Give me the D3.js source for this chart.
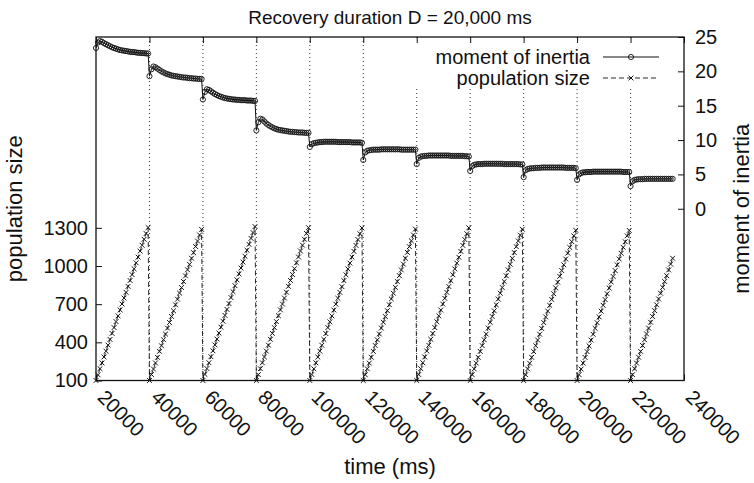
<!DOCTYPE html>
<html>
<head>
<meta charset="utf-8">
<script src="https://cdn.jsdelivr.net/npm/d3@7"></script>
<style>
  body { margin: 0; background: #fff; }
  text { font-family: "Liberation Sans", Arial, Helvetica, sans-serif; fill: #111; }
</style>
</head>
<body>
<svg id="chart" width="754" height="483"></svg>
<script>
// Restart times (ms) at which the population is reset; each run is sampled every sampleMs.
const restarts = [20000, 40000, 60000, 80000, 100000, 120000, 140000, 160000, 180000, 200000, 220000];
const sampleMs = 750;

// Moment of inertia, one list per run
const inertiaRuns = [
  [23.4, 24.2, 24.4, 24.3, 24.1, 23.95, 23.8, 23.65, 23.5, 23.4, 23.3, 23.2, 23.1, 23.05, 23.0, 22.95, 22.9, 22.85, 22.8, 22.8, 22.75, 22.7, 22.7, 22.65, 22.65, 22.6, 22.6],
  [19.3, 20.3, 20.7, 20.6, 20.4, 20.2, 20.0, 19.85, 19.7, 19.6, 19.5, 19.4, 19.35, 19.3, 19.25, 19.2, 19.15, 19.1, 19.1, 19.05, 19.0, 19.0, 18.95, 18.95, 18.9, 18.9, 18.9],
  [15.9, 17.0, 17.4, 17.3, 17.1, 16.9, 16.7, 16.55, 16.4, 16.3, 16.2, 16.1, 16.05, 16.0, 15.95, 15.9, 15.9, 15.85, 15.85, 15.8, 15.8, 15.8, 15.75, 15.75, 15.75, 15.7, 15.7],
  [11.4, 12.6, 13.1, 13.0, 12.7, 12.4, 12.2, 12.0, 11.85, 11.7, 11.6, 11.5, 11.45, 11.4, 11.35, 11.3, 11.25, 11.2, 11.2, 11.15, 11.15, 11.1, 11.1, 11.1, 11.05, 11.05, 11.05],
  [9.0, 9.4, 9.55, 9.6, 9.65, 9.7, 9.7, 9.75, 9.75, 9.75, 9.75, 9.75, 9.75, 9.75, 9.7, 9.7, 9.7, 9.7, 9.7, 9.7, 9.7, 9.65, 9.65, 9.65, 9.65, 9.65, 9.6],
  [7.1, 8.2, 8.45, 8.5, 8.55, 8.6, 8.6, 8.6, 8.6, 8.65, 8.65, 8.65, 8.65, 8.65, 8.65, 8.65, 8.65, 8.65, 8.65, 8.6, 8.6, 8.6, 8.6, 8.6, 8.6, 8.6, 8.6],
  [6.5, 7.4, 7.6, 7.65, 7.7, 7.7, 7.75, 7.75, 7.75, 7.75, 7.75, 7.75, 7.75, 7.75, 7.75, 7.75, 7.75, 7.7, 7.7, 7.7, 7.7, 7.7, 7.7, 7.7, 7.65, 7.65, 7.6],
  [5.5, 6.2, 6.4, 6.45, 6.5, 6.5, 6.5, 6.55, 6.55, 6.55, 6.55, 6.55, 6.55, 6.55, 6.55, 6.55, 6.55, 6.5, 6.5, 6.5, 6.5, 6.5, 6.5, 6.5, 6.5, 6.45, 6.45],
  [4.6, 5.6, 5.8, 5.85, 5.9, 5.9, 5.95, 5.95, 5.95, 6.0, 6.0, 6.0, 6.0, 6.0, 6.0, 6.0, 6.0, 6.0, 6.0, 6.0, 6.0, 5.95, 5.95, 5.95, 5.95, 5.95, 5.9],
  [4.2, 5.0, 5.2, 5.3, 5.3, 5.35, 5.35, 5.35, 5.4, 5.4, 5.4, 5.4, 5.4, 5.4, 5.4, 5.4, 5.4, 5.4, 5.4, 5.4, 5.4, 5.4, 5.4, 5.35, 5.35, 5.35, 5.35],
  [3.3, 4.0, 4.2, 4.25, 4.3, 4.3, 4.3, 4.35, 4.35, 4.35, 4.35, 4.35, 4.35, 4.35, 4.35, 4.35, 4.35, 4.35, 4.35, 4.35, 4.35, 4.35]
];

// Population size, one list per run
const populationRuns = [
  [100, 145, 193, 238, 285, 330, 378, 423, 470, 516, 563, 608, 655, 701, 748, 793, 840, 886, 932, 978, 1025, 1070, 1117, 1163, 1210, 1255, 1302],
  [100, 147, 190, 238, 282, 329, 373, 421, 465, 512, 556, 604, 648, 695, 739, 787, 831, 878, 922, 970, 1013, 1061, 1105, 1153, 1196, 1244, 1288],
  [100, 148, 194, 240, 287, 333, 380, 426, 473, 519, 566, 612, 659, 705, 752, 798, 845, 891, 938, 984, 1031, 1077, 1124, 1170, 1217, 1263, 1310],
  [100, 146, 193, 239, 285, 331, 378, 424, 470, 516, 563, 609, 655, 701, 748, 794, 840, 886, 933, 979, 1025, 1071, 1118, 1164, 1210, 1256, 1301],
  [100, 147, 192, 239, 284, 331, 377, 423, 469, 516, 561, 608, 654, 700, 746, 793, 838, 885, 931, 977, 1023, 1070, 1115, 1162, 1208, 1254, 1299],
  [100, 145, 192, 237, 283, 329, 375, 420, 466, 512, 558, 603, 649, 695, 741, 786, 832, 878, 924, 969, 1015, 1061, 1107, 1152, 1198, 1244, 1290],
  [100, 147, 193, 240, 285, 332, 377, 424, 470, 516, 562, 608, 654, 701, 746, 793, 839, 885, 931, 977, 1023, 1069, 1115, 1162, 1208, 1254, 1300],
  [100, 146, 191, 237, 282, 329, 374, 420, 465, 512, 557, 603, 648, 695, 740, 786, 831, 878, 923, 969, 1014, 1060, 1106, 1152, 1197, 1243, 1289],
  [100, 145, 191, 236, 282, 327, 373, 418, 464, 509, 555, 600, 646, 691, 737, 782, 828, 873, 919, 964, 1010, 1055, 1101, 1146, 1192, 1237, 1281],
  [100, 146, 190, 237, 281, 327, 372, 418, 463, 510, 554, 600, 645, 691, 736, 782, 827, 874, 918, 964, 1009, 1055, 1100, 1147, 1191, 1237, 1280],
  [100, 146, 192, 237, 283, 329, 375, 420, 466, 512, 558, 603, 649, 695, 741, 786, 832, 878, 924, 969, 1015, 1061]
];

const timeTicks = [20000, 40000, 60000, 80000, 100000, 120000, 140000, 160000, 180000, 200000, 220000, 240000];
const populationTicks = [100, 400, 700, 1000, 1300];
const inertiaTicks = [0, 5, 10, 15, 20, 25];

const titleText = "Recovery duration D = 20,000 ms";
const seriesNames = ["moment of inertia", "population size"];

// ---- layout ----
const W = 754, H = 483;
const plot = { left: 96, right: 684, top: 37, bottom: 380.5 };

const svg = d3.select("#chart");

const x = d3.scaleLinear().domain([20000, 240000]).range([plot.left, plot.right]);
const yPop = d3.scaleLinear().domain([100, 2800]).range([plot.bottom, plot.top]);
const yIn = d3.scaleLinear().domain([-25, 25]).range([plot.bottom, plot.top]);

// flatten runs into time-stamped samples
const inertia = [];
inertiaRuns.forEach((run, k) => run.forEach((v, i) => inertia.push({ t: restarts[k] + i * sampleMs, v })));
const population = [];
populationRuns.forEach((run, k) => run.forEach((v, i) => population.push({ t: restarts[k] + i * sampleMs, v })));

// dotted vertical grid at interior time ticks
svg.append("g").selectAll("line")
  .data(timeTicks.filter(t => t > 20000 && t < 240000))
  .join("line")
  .attr("x1", d => x(d)).attr("x2", d => x(d))
  .attr("y1", plot.top).attr("y2", plot.bottom)
  .attr("stroke", "#333").attr("stroke-width", 1)
  .attr("stroke-dasharray", "1,3");

// population size: dashed line with x markers
svg.append("path")
  .datum(population)
  .attr("fill", "none")
  .attr("stroke", "#111")
  .attr("stroke-width", 0.9)
  .attr("stroke-dasharray", "5,3")
  .attr("d", d3.line().x(d => x(d.t)).y(d => yPop(d.v)));

const cross = (g, s) => g.append("path")
  .attr("d", `M${-s},${-s}L${s},${s}M${-s},${s}L${s},${-s}`)
  .attr("stroke", "#111").attr("stroke-width", 1).attr("fill", "none");

svg.append("g").selectAll("g")
  .data(population)
  .join("g")
  .attr("transform", d => `translate(${x(d.t)},${yPop(d.v)})`)
  .each(function () { cross(d3.select(this), 2.4); });

// moment of inertia: solid line with open circles
svg.append("path")
  .datum(inertia)
  .attr("fill", "none")
  .attr("stroke", "#111")
  .attr("stroke-width", 1)
  .attr("d", d3.line().x(d => x(d.t)).y(d => yIn(d.v)));

svg.append("g").selectAll("circle")
  .data(inertia)
  .join("circle")
  .attr("cx", d => x(d.t)).attr("cy", d => yIn(d.v))
  .attr("r", 2.6)
  .attr("fill", "none").attr("stroke", "#111").attr("stroke-width", 0.9);

// opaque key
const key = svg.append("g");
key.append("rect")
  .attr("x", 405).attr("y", plot.top + 1).attr("width", 273).attr("height", 50)
  .attr("fill", "#fff");
const keyRows = [57, 78];
key.selectAll("text.kl")
  .data(seriesNames)
  .join("text")
  .attr("class", "kl")
  .attr("x", 590).attr("y", (d, i) => keyRows[i] + 7)
  .attr("text-anchor", "end")
  .attr("font-size", 20)
  .text(d => d);
key.append("line").attr("x1", 603).attr("x2", 659).attr("y1", keyRows[0]).attr("y2", keyRows[0])
  .attr("stroke", "#111").attr("stroke-width", 1);
key.append("circle").attr("cx", 631).attr("cy", keyRows[0]).attr("r", 2.6)
  .attr("fill", "none").attr("stroke", "#111").attr("stroke-width", 0.9);
key.append("line").attr("x1", 603).attr("x2", 659).attr("y1", keyRows[1]).attr("y2", keyRows[1])
  .attr("stroke", "#111").attr("stroke-width", 0.9).attr("stroke-dasharray", "5,3");
cross(key.append("g").attr("transform", `translate(631,${keyRows[1]})`), 2.4);

// axes (ticks point into the plot)
const fontSize = 20;
const gLeft = svg.append("g").attr("transform", `translate(${plot.left},0)`)
  .call(d3.axisLeft(yPop).tickValues(populationTicks).tickSize(-6).tickPadding(8).tickFormat(d3.format("d")));
const gRight = svg.append("g").attr("transform", `translate(${plot.right},0)`)
  .call(d3.axisRight(yIn).tickValues(inertiaTicks).tickSize(-6).tickPadding(11).tickFormat(d3.format("d")));
const gBottom = svg.append("g").attr("transform", `translate(0,${plot.bottom})`)
  .call(d3.axisBottom(x).tickValues(timeTicks).tickSize(-6).tickFormat(d3.format("d")));
const gTop = svg.append("g").attr("transform", `translate(0,${plot.top})`)
  .call(d3.axisTop(x).tickValues(timeTicks).tickSize(-6).tickFormat(""));

[gLeft, gRight, gBottom, gTop].forEach(g => {
  g.select(".domain").remove();
  g.selectAll(".tick line").attr("stroke", "#111").attr("stroke-width", 1);
  g.selectAll("text").attr("font-size", fontSize).attr("font-family", null).attr("fill", "#111");
});

gBottom.selectAll(".tick text")
  .attr("x", 0).attr("y", 0).attr("dy", 0)
  .attr("text-anchor", "start")
  .attr("transform", "translate(0,18) rotate(45)");

// frame
svg.append("rect")
  .attr("x", plot.left).attr("y", plot.top)
  .attr("width", plot.right - plot.left).attr("height", plot.bottom - plot.top)
  .attr("fill", "none").attr("stroke", "#111").attr("stroke-width", 1.3);

// titles
svg.append("text").attr("x", (plot.left + plot.right) / 2).attr("y", 24)
  .attr("text-anchor", "middle").attr("font-size", 19).text(titleText);
svg.append("text").attr("x", (plot.left + plot.right) / 2).attr("y", 474)
  .attr("text-anchor", "middle").attr("font-size", 22).text("time (ms)");
svg.append("text").attr("transform", `translate(22,${(plot.top + plot.bottom) / 2}) rotate(-90)`)
  .attr("text-anchor", "middle").attr("font-size", 22).text("population size");
svg.append("text").attr("transform", `translate(749,${(plot.top + plot.bottom) / 2}) rotate(-90)`)
  .attr("text-anchor", "middle").attr("font-size", 22).text("moment of inertia");
</script>
</body>
</html>
